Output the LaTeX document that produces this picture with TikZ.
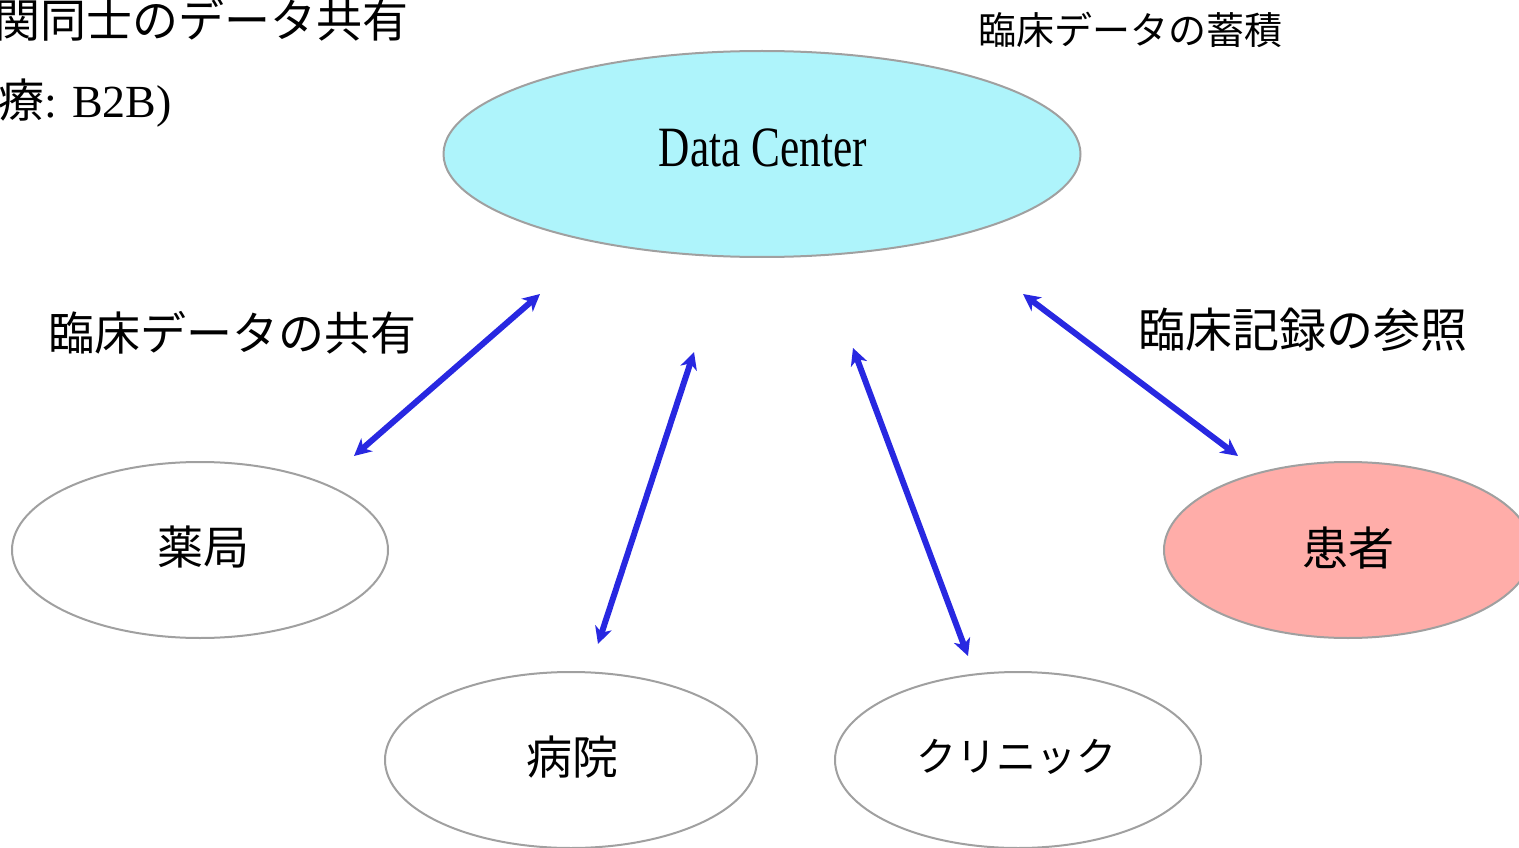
\documentclass[tikz,border=0pt]{standalone}
\usepackage{fontspec}
\setmainfont{Liberation Serif}
\newfontfamily\jp{Noto Sans CJK JP}
\newfontfamily\condserif[FakeStretch=0.76]{Liberation Serif}
\usetikzlibrary{shapes.geometric,arrows.meta}
\definecolor{edgegray}{RGB}{160,160,160}
\definecolor{dcfill}{RGB}{174,244,251}
\definecolor{ptfill}{RGB}{255,173,169}
\definecolor{arrowblue}{RGB}{40,40,225}
\tikzset{
  oval/.style={ellipse, draw=edgegray, line width=2pt, inner sep=0pt, fill=white},
  link/.style={draw=arrowblue, line width=6pt, {Stealth[length=17pt,width=17pt,inset=5pt]}-{Stealth[length=17pt,width=17pt,inset=5pt]}},
  jptext/.style={font=\jp\fontsize{46}{50}\selectfont, inner sep=0pt}
}
\begin{document}
\begin{tikzpicture}[x=1pt,y=-1pt]
\useasboundingbox (0,0) rectangle (1519,848);
\begin{scope}
\clip (0,0) rectangle (1519,848);
% top-left cut-off texts
\node[jptext, anchor=west] (t1) at (-6,20) {関同士のデータ共有};
\node[inner sep=0pt, anchor=west] (t2) at (-2,103) {{\jp\fontsize{46}{50}\selectfont 療}\fontsize{46}{50}\selectfont: B2B)};
% ellipses
\node[oval, fill=dcfill, minimum width=637pt, minimum height=206pt] (dc) at (762,154) {};
\node[font=\condserif\fontsize{57}{60}\selectfont, inner sep=0pt] (dct) at (763,148) {Data Center};
\node[oval, minimum width=376pt, minimum height=176pt] (ph) at (200,550) {};
\node[jptext] (pht) at (203,547) {薬局};
\node[oval, minimum width=372pt, minimum height=176pt] (ho) at (571,760) {};
\node[jptext] (hot) at (572,757) {病院};
\node[oval, minimum width=366pt, minimum height=176pt] (cl) at (1018,760) {};
\node[jptext, font=\jp\fontsize{40}{44}\selectfont] (clt) at (1016,757) {クリニック};
\node[oval, fill=ptfill, minimum width=368pt, minimum height=176pt] (pa) at (1348,550) {};
\node[jptext] (pat) at (1348,548) {患者};
\end{scope}
% labels
\node[jptext, font=\jp\fontsize{38}{42}\selectfont, anchor=west] (l1) at (978,30) {臨床データの蓄積};
\node[jptext, anchor=west] (l2) at (48,333) {臨床データの共有};
\node[jptext, font=\jp\fontsize{47}{51}\selectfont, anchor=west] (l3) at (1138,330) {臨床記録の参照};
% arrow end points
\coordinate (a1s) at (540,294); \coordinate (a1e) at (354,456);
\coordinate (a2s) at (694,352); \coordinate (a2e) at (598,644);
\coordinate (a3s) at (853,348); \coordinate (a3e) at (968,656);
\coordinate (a4s) at (1023,294); \coordinate (a4e) at (1238,456);
\draw[link] (a1s) -- (a1e);
\draw[link] (a2s) -- (a2e);
\draw[link] (a3s) -- (a3e);
\draw[link] (a4s) -- (a4e);
\end{tikzpicture}
\end{document}
